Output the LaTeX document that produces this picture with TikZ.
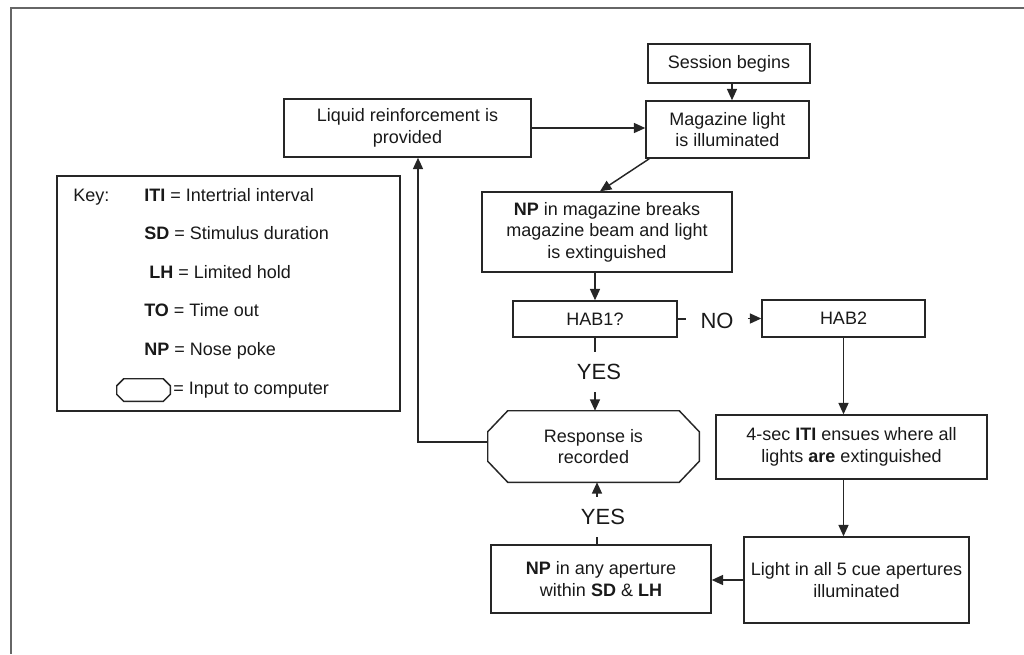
\documentclass[tikz,border=0pt]{standalone}
\usepackage{fontspec}
\setmainfont{Liberation Sans}
\usetikzlibrary{arrows.meta,calc}
\tikzset{
  txt/.style={align=center, inner sep=0pt, text=black!90, font=\fontsize{13.5}{16.2}\selectfont},
  box/.style={txt, draw=black!85, line width=1.1pt},
  conn/.style={draw=black!85, line width=1.1pt},
  arr/.style={conn, -{Triangle[length=8.5pt,width=7.5pt]}},
  lbl/.style={inner xsep=0pt, inner ysep=9pt, text=black!90, font=\fontsize{16.5}{19.8}\selectfont},
  frameline/.style={draw=black!60, line width=1.5pt},
}
\begin{document}
\begin{tikzpicture}[x=0.75pt, y=-0.75pt]
\useasboundingbox (0,0) rectangle (1024,654);
\draw[frameline] (1024,8) -- (11,8) -- (11,654);

% main boxes
\node[box, minimum width=162*0.75pt, minimum height=39*0.75pt] (session) at (729,63.5) {Session begins};
\node[box, minimum width=163*0.75pt, minimum height=57*0.75pt] (maglight) at (727.5,129.5) {Magazine light\\is illuminated};
\node[box, minimum width=247*0.75pt, minimum height=58*0.75pt] (liquid) at (407.5,128) {Liquid reinforcement is\\provided};
\node[box, minimum width=250*0.75pt, minimum height=80*0.75pt] (npmag) at (607,232) {\textbf{NP} in magazine breaks\\magazine beam and light\\is extinguished};
\node[box, minimum width=164*0.75pt, minimum height=36*0.75pt] (hab1) at (595,319) {HAB1?};
\node[box, minimum width=163*0.75pt, minimum height=37*0.75pt] (hab2) at (843.5,318.5) {HAB2};
\node[txt, minimum width=211*0.75pt, minimum height=71*0.75pt] (response) at (593.5,446.5) {Response is\\recorded};
\node[box, minimum width=271*0.75pt, minimum height=64*0.75pt] (iti) at (851.5,447) {4-sec \textbf{ITI} ensues where all\\lights \textbf{are} extinguished};
\node[box, minimum width=225*0.75pt, minimum height=86*0.75pt] (light) at (856.5,580) {Light in all 5 cue apertures\\illuminated};
\node[box, minimum width=220*0.75pt, minimum height=68*0.75pt] (npany) at (601,579) {\textbf{NP} in any aperture\\within \textbf{SD} \& \textbf{LH}};

% octagon of the response node
\draw[conn] ($(response.north west)+(20,0)$) -- ($(response.north east)+(-20,0)$)
  -- ($(response.north east)+(0,21)$) -- ($(response.south east)+(0,-21)$)
  -- ($(response.south east)+(-20,0)$) -- ($(response.south west)+(20,0)$)
  -- ($(response.south west)+(0,-21)$) -- ($(response.north west)+(0,21)$) -- cycle;

% labels
\node[lbl, inner xsep=14*0.75pt, inner ysep=0pt] (no) at (717,321) {NO};
\node[lbl] (yes1) at (599,372) {YES};
\node[lbl] (yes2) at (603,517) {YES};

% connectors
\draw[arr] (session.south -| 732,0) -- (maglight.north -| 732,0);
\draw[arr] (liquid.east) -- (liquid.east -| maglight.west);
\draw[arr] ($(maglight.south west)+(4,0)$) -- ($(npmag.north)+(-7,0)$);
\draw[arr] (hab1.north |- npmag.south) -- (hab1.north);
\draw[conn] (hab1.east) -- (hab1.east -| no.west);
\draw[arr] (no.east |- hab2.west) -- (hab2.west);
\draw[conn] (hab1.south) -- (hab1.south |- yes1.north);
\draw[arr] (hab1.south |- yes1.south) -- (hab1.south |- response.north);
\draw[arr] (hab2.south) -- (hab2.south |- iti.north);
\draw[arr] (hab2.south |- iti.south) -- (hab2.south |- light.north);
\draw[arr] (light.west) -- (light.west -| npany.east);
\coordinate (rs) at ($(response.south)+(3.5,0)$);
\draw[conn] (rs |- npany.north) -- (rs |- yes2.south);
\draw[arr] (rs |- yes2.north) -- (rs);
\draw[arr] ($(response.west)+(0,-4.5)$) -| ($(liquid.south)+(10.5,0)$);

% key
\node[conn, minimum width=343*0.75pt, minimum height=235*0.75pt, inner sep=0pt] (key) at (228.5,293.5) {};
\node[txt, anchor=base west] (k0) at (73,201.5) {Key:};
\node[txt, anchor=base west] (k1) at (144,201.5) {\textbf{ITI} = Intertrial interval};
\node[txt, anchor=base west] (k2) at (144,239.5) {\textbf{SD} = Stimulus duration};
\node[txt, anchor=base west] (k3) at (149,278.5) {\textbf{LH} = Limited hold};
\node[txt, anchor=base west] (k4) at (144,316.5) {\textbf{TO} = Time out};
\node[txt, anchor=base west] (k5) at (144,355.5) {\textbf{NP} = Nose poke};
\node[txt, minimum width=53*0.75pt, minimum height=22*0.75pt] (inp) at (143.5,390) {};
\draw[conn] ($(inp.north west)+(7,0)$) -- ($(inp.north east)+(-7,0)$)
  -- ($(inp.north east)+(0,7)$) -- ($(inp.south east)+(0,-7)$)
  -- ($(inp.south east)+(-7,0)$) -- ($(inp.south west)+(7,0)$)
  -- ($(inp.south west)+(0,-7)$) -- ($(inp.north west)+(0,7)$) -- cycle;
\node[txt, anchor=base west] (k6) at (173,394.5) {= Input to computer};
\end{tikzpicture}
\end{document}
